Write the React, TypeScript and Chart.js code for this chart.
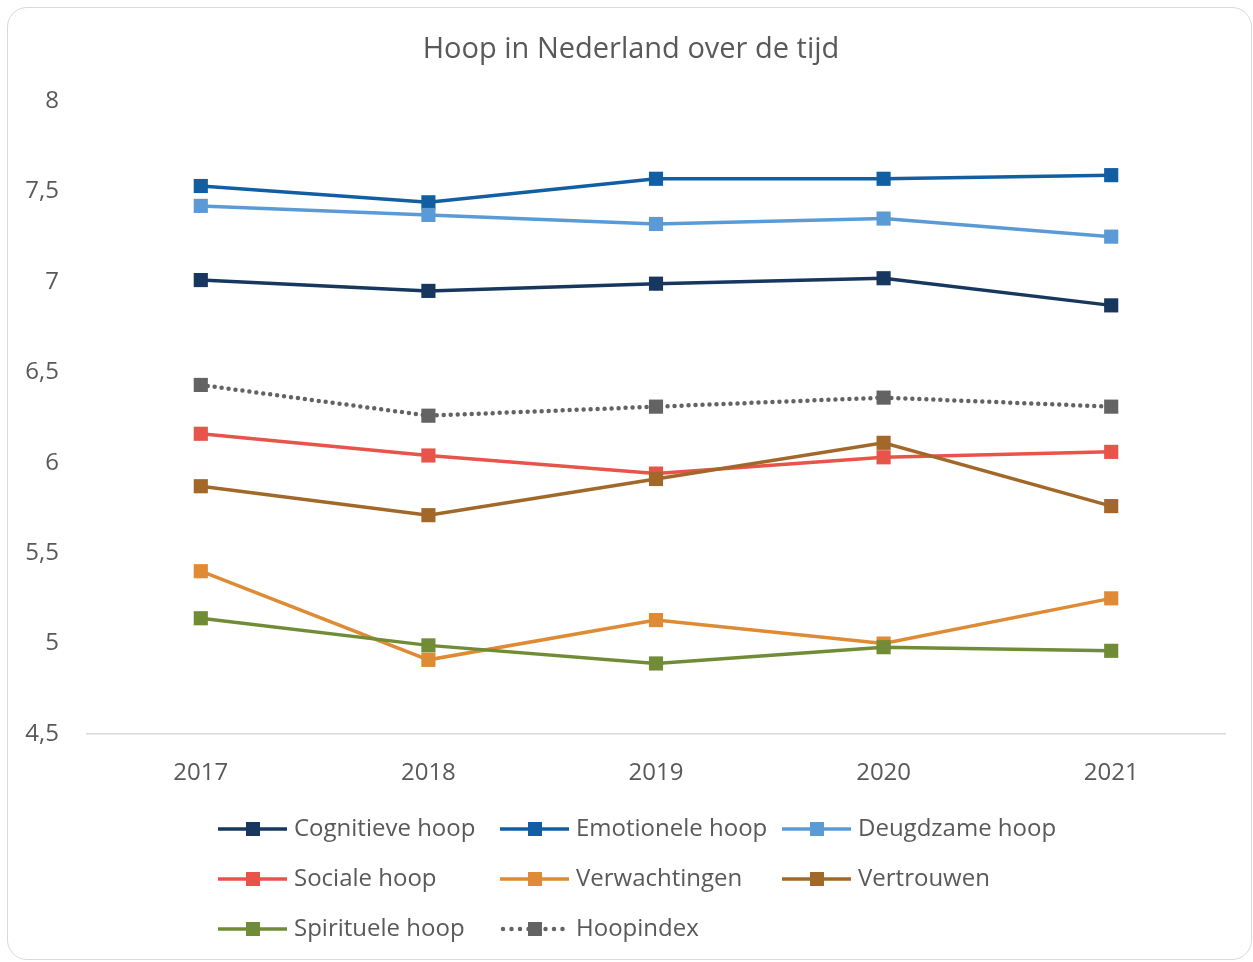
import React, { useEffect, useRef } from "react";
import { Chart, registerables } from "chart.js";

Chart.register(...registerables);

const titleText = "Hoop in Nederland over de tijd";
const years = ["2017", "2018", "2019", "2020", "2021"];
const seriesNames = [
  "Cognitieve hoop",
  "Emotionele hoop",
  "Deugdzame hoop",
  "Sociale hoop",
  "Verwachtingen",
  "Vertrouwen",
  "Spirituele hoop",
  "Hoopindex",
];
const cognitieve = [7.01, 6.95, 6.99, 7.02, 6.87];
const emotionele = [7.53, 7.44, 7.57, 7.57, 7.59];
const deugdzame = [7.42, 7.37, 7.32, 7.35, 7.25];
const sociale = [6.16, 6.04, 5.94, 6.03, 6.06];
const verwachtingen = [5.4, 4.91, 5.13, 5.0, 5.25];
const vertrouwen = [5.87, 5.71, 5.91, 6.11, 5.76];
const spirituele = [5.14, 4.99, 4.89, 4.98, 4.96];
const hoopindex = [6.43, 6.26, 6.31, 6.36, 6.31];
const yMin = 4.5;
const yMax = 8;
const yStep = 0.5;

const seriesValues = [cognitieve, emotionele, deugdzame, sociale, verwachtingen, vertrouwen, spirituele, hoopindex];
const seriesColors = ["#17375E", "#115EA3", "#5B9BD5", "#E8534A", "#DF8A34", "#A2682A", "#718C36", "#636363"];
const dottedSeries = [false, false, false, false, false, false, false, true];

const FONT = "'Open Sans', 'DejaVu Sans', sans-serif";
const TEXT = "#595959";

const titlePlugin = {
  id: "excelTitle",
  afterDraw(chart: any) {
    const ctx = chart.ctx;
    ctx.save();
    ctx.fillStyle = TEXT;
    ctx.font = `29px ${FONT}`;
    ctx.textAlign = "center";
    ctx.textBaseline = "middle";
    ctx.fillText(titleText, 631, 49.5);
    ctx.restore();
  },
};

const legendPlugin = {
  id: "excelLegend",
  afterDraw(chart: any) {
    const ctx = chart.ctx;
    const colX = [218, 500, 782];
    const rowY = [829, 879, 929];
    const lineLen = 70;
    const marker = 14;
    ctx.save();
    chart.data.datasets.forEach((ds: any, i: number) => {
      const col = i % 3;
      const row = Math.floor(i / 3);
      const x = colX[col];
      const y = rowY[row];
      ctx.strokeStyle = ds.borderColor;
      ctx.lineWidth = ds.borderWidth;
      if (dottedSeries[i]) {
        ctx.setLineDash([0, 8.5]);
        ctx.lineCap = "round";
      } else {
        ctx.setLineDash([]);
        ctx.lineCap = "butt";
      }
      ctx.beginPath();
      ctx.moveTo(dottedSeries[i] ? x + 3 : x, y);
      ctx.lineTo(x + lineLen - 1, y);
      ctx.stroke();
      ctx.setLineDash([]);
      ctx.fillStyle = ds.borderColor;
      ctx.fillRect(x + lineLen / 2 - marker / 2, y - marker / 2, marker, marker);
      ctx.fillStyle = TEXT;
      ctx.font = `24px ${FONT}`;
      ctx.textBaseline = "middle";
      ctx.textAlign = "left";
      ctx.fillText(ds.label, x + lineLen + 6, y);
    });
    ctx.restore();
  },
};

export default function App() {
  const canvasRef = useRef<HTMLCanvasElement | null>(null);

  useEffect(() => {
    if (!canvasRef.current) return;
    const chart = new Chart(canvasRef.current, {
      type: "line",
      data: {
        labels: years,
        datasets: seriesNames.map((name, i) => ({
          label: name,
          data: seriesValues[i],
          borderColor: seriesColors[i],
          backgroundColor: seriesColors[i],
          borderWidth: dottedSeries[i] ? 4.5 : 3.5,
          borderDash: dottedSeries[i] ? [0, 7] : [],
          borderCapStyle: dottedSeries[i] ? "round" : "butt",
          pointStyle: "rect",
          pointRadius: 10,
          pointBorderWidth: 0,
          pointBackgroundColor: seriesColors[i],
          tension: 0,
          fill: false,
          order: -i,
        })),
      },
      options: {
        animation: false,
        responsive: false,
        maintainAspectRatio: false,
        layout: { padding: { left: 0, right: 28, top: 101, bottom: 168 } },
        plugins: {
          legend: { display: false },
          tooltip: { enabled: false },
          title: { display: false },
        },
        scales: {
          x: {
            offset: true,
            grid: { display: false, drawTicks: false },
            border: { display: true, color: "#D9D9D9", width: 1.5 },
            ticks: { color: TEXT, font: { family: FONT, size: 24 }, padding: 25, maxRotation: 0 },
            afterFit: (s: any) => {
              s.height = 60;
            },
          },
          y: {
            min: yMin,
            max: yMax,
            grid: { display: false, drawTicks: false },
            border: { display: false },
            ticks: {
              stepSize: yStep,
              color: TEXT,
              font: { family: FONT, size: 24 },
              padding: 28,
              callback: (v: any) => String(v).replace(".", ","),
            },
            afterFit: (s: any) => {
              s.width = 87;
            },
          },
        },
      },
      plugins: [titlePlugin, legendPlugin],
    });
    return () => chart.destroy();
  }, []);

  return (
    <div style={{ position: "absolute", left: 0, top: 0, width: 1253, height: 962, background: "#fff", overflow: "hidden" }}>
      <div
        style={{
          position: "absolute",
          left: 7,
          top: 7,
          width: 1245,
          height: 953,
          boxSizing: "border-box",
          border: "1.5px solid #D9D9D9",
          borderRadius: 20,
        }}
      />
      <canvas ref={canvasRef} width={1253} height={962} style={{ position: "absolute", left: 0, top: 0, width: 1253, height: 962 }} />
    </div>
  );
}
